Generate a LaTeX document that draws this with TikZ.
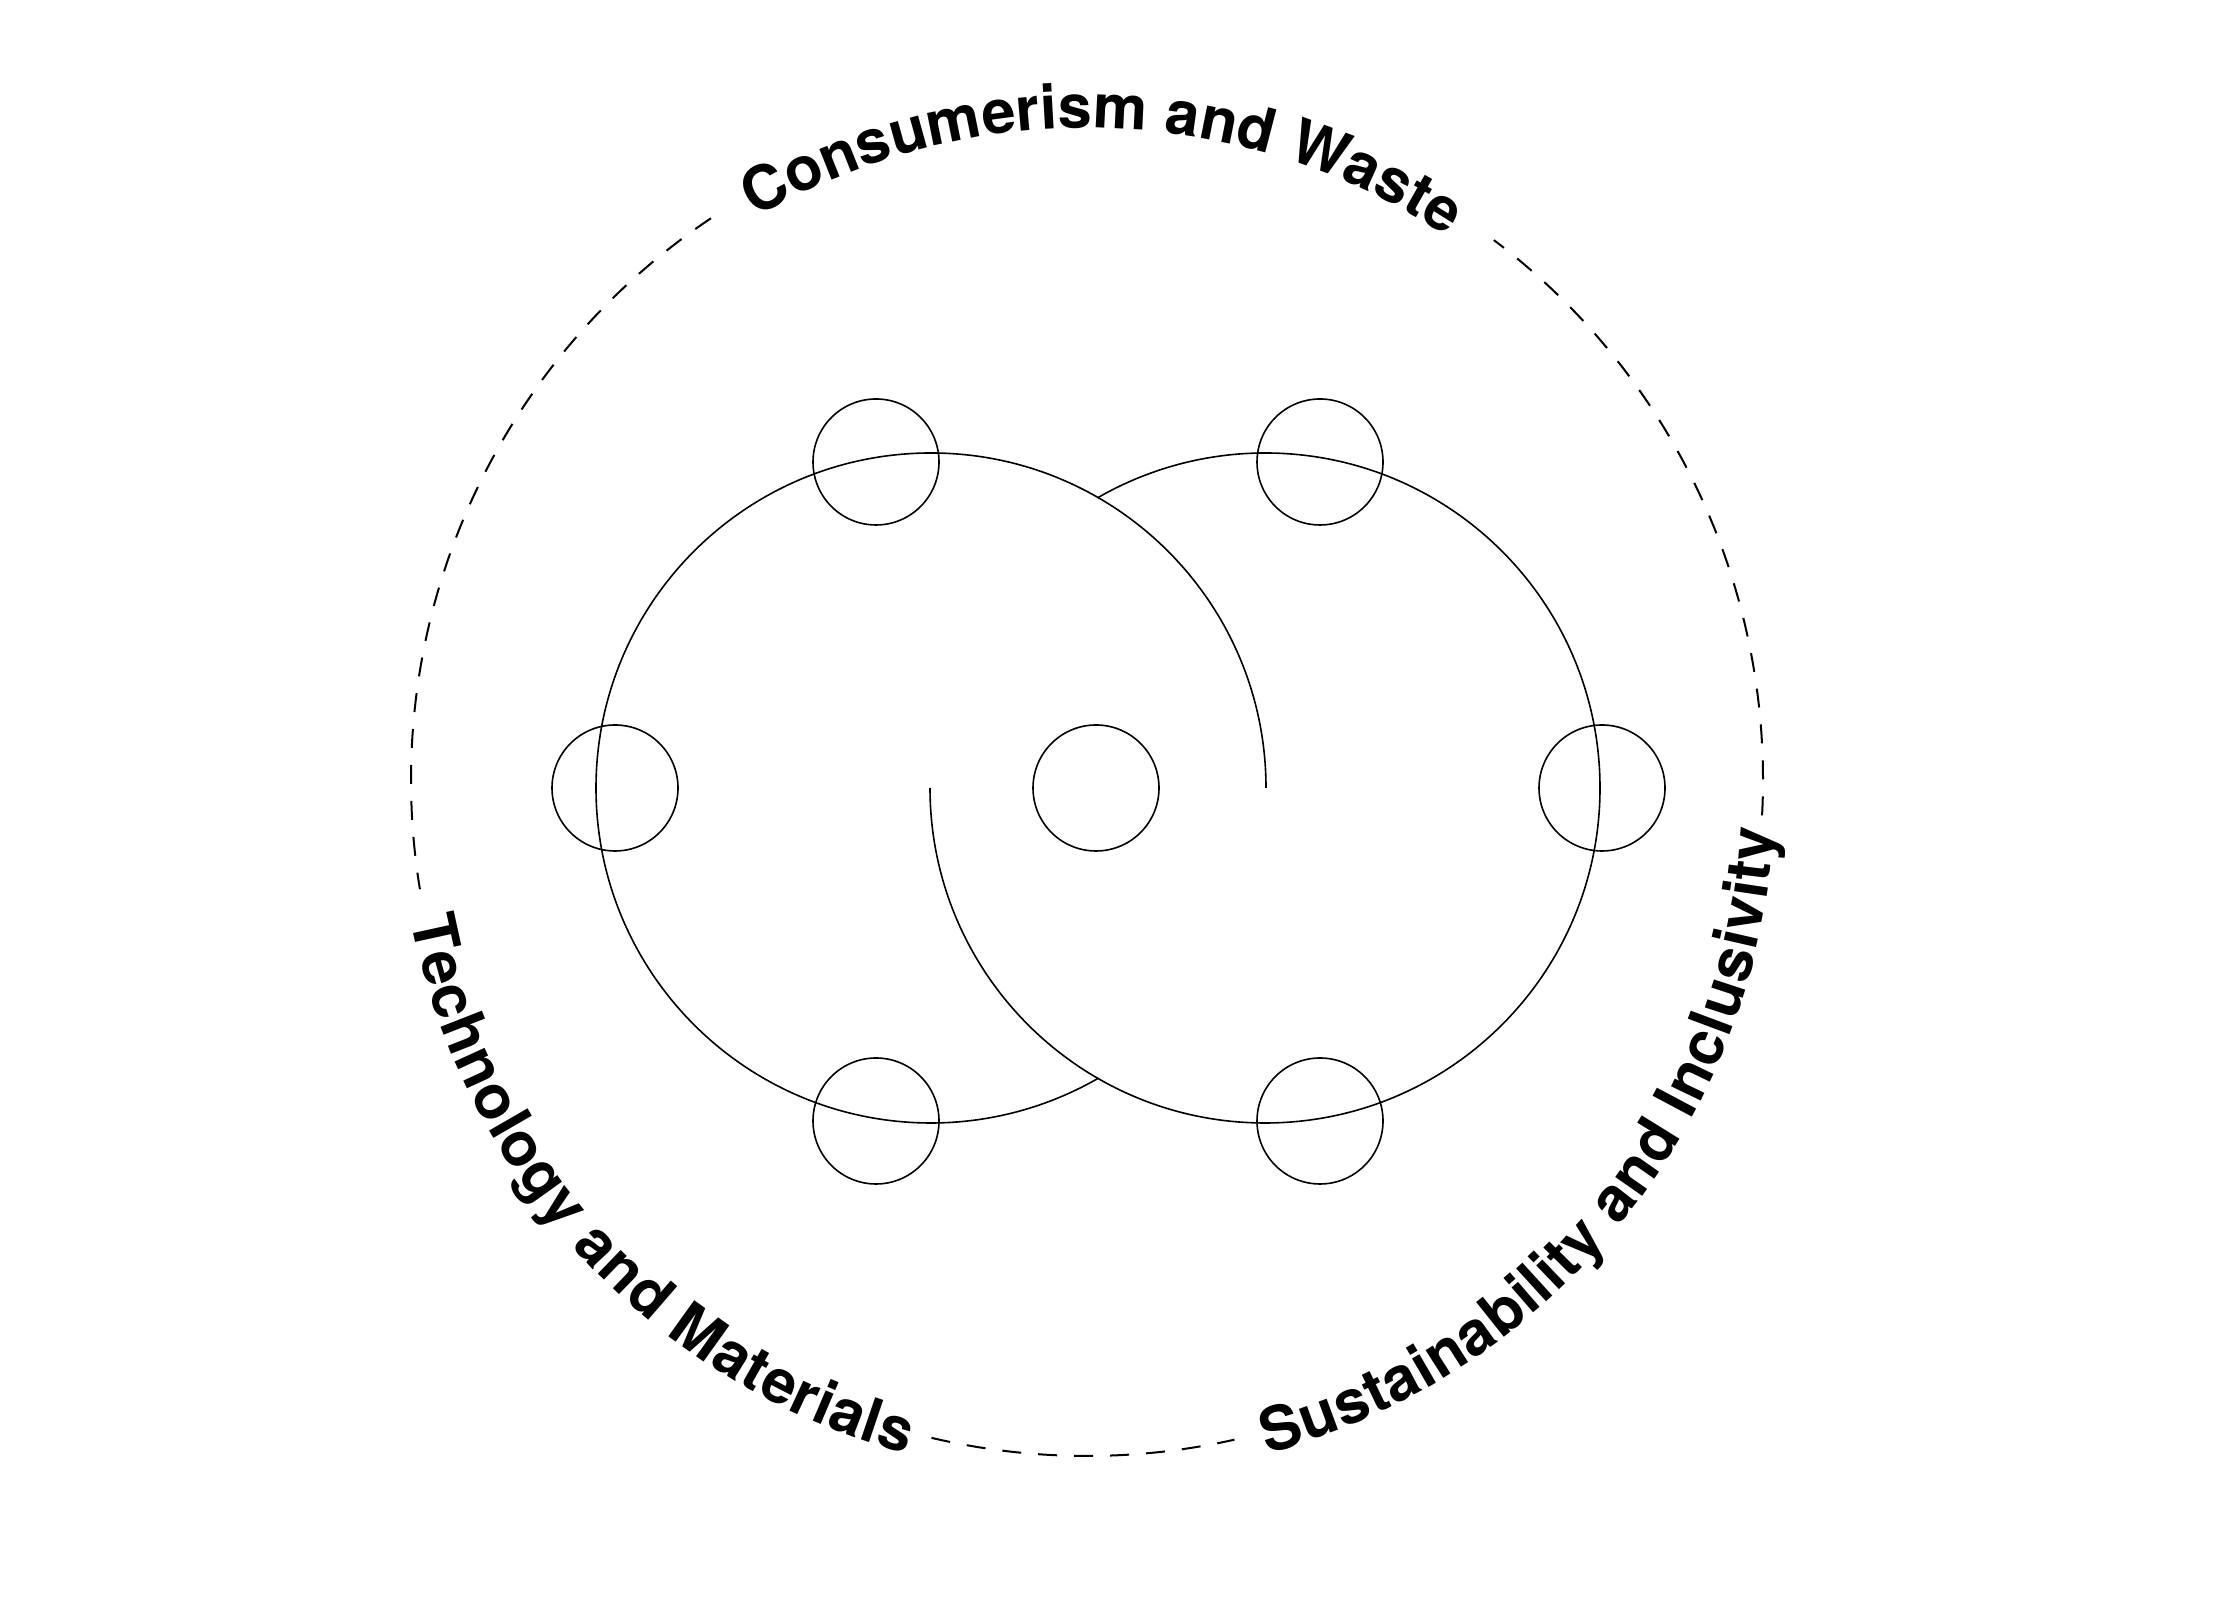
\documentclass[tikz,border=0pt]{standalone}
\usepackage{fontspec}
\setmainfont{TeX Gyre Heros}
\usetikzlibrary{decorations.text}
\newcommand\arcfont{\bfseries\fontsize{61}{72}\selectfont}
\begin{document}
\begin{tikzpicture}[x=1pt,y=1pt,
  thinline/.style={line width=1.6pt, draw=black},
  dot/.style={circle, draw=black, line width=1.6pt, minimum size=126pt, inner sep=0pt},
  outerdash/.style={line width=2pt, draw=black, dash pattern=on 19pt off 17pt},
  arclabel/.style 2 args={decorate, decoration={text along path, text align=center, raise=#2, text={#1}}}
]
\useasboundingbox (0,0) rectangle (2228,1614);
\fill[white] (0,0) rectangle (2228,1614);
\coordinate (O) at (1087,834);
\coordinate (Ob) at (1087,824);
\coordinate (cl) at (931,826);
\coordinate (cr) at (1265,826);
% big interlocking arcs
\draw[thinline] (cl) ++(0:335) arc[start angle=0, end angle=300, radius=335];
\draw[thinline] (cr) ++(180:335) arc[start angle=180, end angle=480, radius=335];
% small circles
\node[dot] (tl) at (876,1152) {};
\node[dot] (tr) at (1320,1152) {};
\node[dot] (ml) at (615,826) {};
\node[dot] (mc) at (1096,826) {};
\node[dot] (mr) at (1602,826) {};
\node[dot] (bl) at (876,493) {};
\node[dot] (br) at (1320,493) {};
% outer dashed circle pieces
\draw[outerdash] (O) ++(123.8:676) arc[start angle=123.8, end angle=189.3, radius=676];
\draw[outerdash] (O) ++(256.7:676) arc[start angle=256.7, end angle=282.6, radius=676];
\draw[outerdash] (O) ++(357:676) arc[start angle=357, end angle=413, radius=676];
% labels along the circle
\path[arclabel={|\arcfont|Consumerism and Waste}{0pt}] (O) ++(125:652) arc[start angle=125, end angle=52, radius=652];
\path[arclabel={|\arcfont|Technology and Materials}{-18pt}] (Ob) ++(185:670) arc[start angle=185, end angle=260.6, radius=670];
\path[arclabel={|\arcfont|Sustainability and Inclusivity}{-18pt}] (Ob) ++(280.5:670) arc[start angle=280.5, end angle=361.5, radius=670];
\end{tikzpicture}
\end{document}
